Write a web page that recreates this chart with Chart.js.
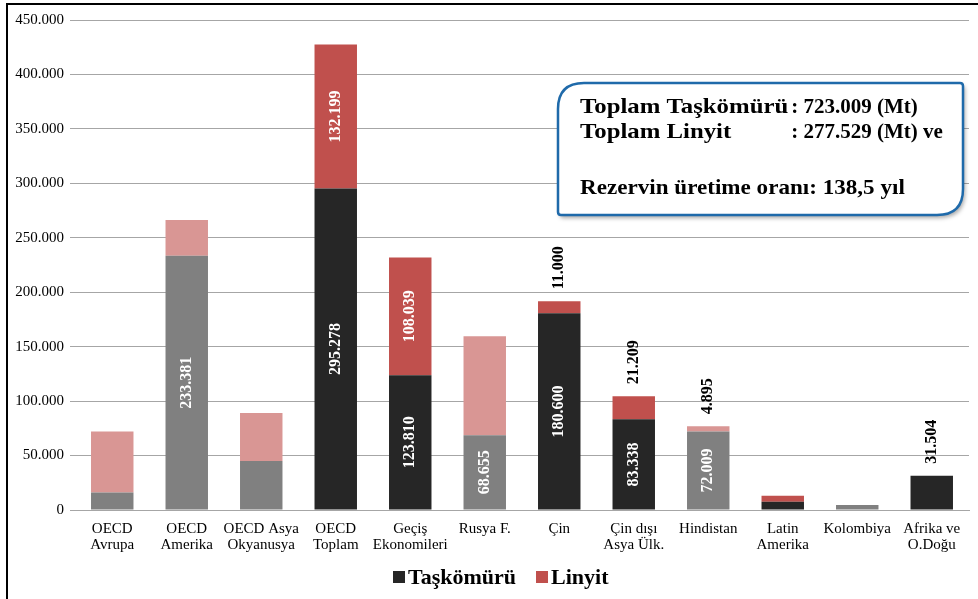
<!DOCTYPE html>
<html lang="tr">
<head>
<meta charset="utf-8">
<title>Kömür rezervleri</title>
<script src="https://cdn.jsdelivr.net/npm/chart.js@4.4.1/dist/chart.umd.min.js"></script>
<style>
  html, body { margin: 0; padding: 0; background: #fff; }
  canvas { display: block; }
</style>
</head>
<body>
<canvas id="rezervGrafik" width="978" height="599"></canvas>
<script>
// bölgeler ve rezervler (Mt)
var bolgeler = [
  ['OECD', 'Avrupa'], ['OECD', 'Amerika'], ['OECD Asya', 'Okyanusya'], ['OECD', 'Toplam'],
  ['Geçiş', 'Ekonomileri'], 'Rusya F.', 'Çin', ['Çin dışı', 'Asya Ülk.'],
  'Hindistan', ['Latin', 'Amerika'], 'Kolombiya', ['Afrika ve', 'O.Doğu']
];
var taskomuru = [16000, 233381, 45000, 295278, 123810, 68655, 180600, 83338, 72009, 7500, 4600, 31504];
var linyit    = [56000, 33000, 44000, 132199, 108039, 91000, 11000, 21209, 4895, 5500, 0, 0];

// hangi çubuklarda değer yazılıyor
var taskomuruEtiketli = [1, 3, 4, 5, 6, 7, 8, 11];
var linyitEtiketli = [3, 4, 6, 7, 8];

var yTickleri = [0, 50000, 100000, 150000, 200000, 250000, 300000, 350000, 400000, 450000];

var ozetSatirlari = [
  ['Toplam Taşkömürü', ': 723.009 (Mt)'],
  ['Toplam Linyit', ': 277.529 (Mt) ve'],
  [],
  ['Rezervin üretime oranı: 138,5 yıl']
];

// gri/pembe tonla çizilen bölgeler
var acikTonlu = [0, 1, 2, 5, 8, 10];

var KOYU = '#262626', GRI = '#808080', KIRMIZI = '#c0504d', PEMBE = '#d99694';
var SERIF = '"Liberation Serif", "Times New Roman", serif';

function noktali(v) {
  return String(v).replace(/\B(?=(\d{3})+(?!\d))/g, '.');
}

var tasRenk = taskomuru.map(function (v, i) { return acikTonlu.indexOf(i) >= 0 ? GRI : KOYU; });
var linRenk = linyit.map(function (v, i) { return acikTonlu.indexOf(i) >= 0 ? PEMBE : KIRMIZI; });

// çubuk üzerindeki dikey değer yazıları
var degerYazilari = {
  id: 'degerYazilari',
  afterDatasetsDraw: function (chart) {
    var ctx = chart.ctx;
    var setler = [[0, taskomuruEtiketli, taskomuru], [1, linyitEtiketli, linyit]];
    ctx.save();
    ctx.font = 'bold 16px ' + SERIF;
    setler.forEach(function (s) {
      var meta = chart.getDatasetMeta(s[0]);
      s[1].forEach(function (i) {
        var bar = meta.data[i];
        var txt = noktali(s[2][i]);
        var w = ctx.measureText(txt).width;
        var h = bar.base - bar.y;
        ctx.save();
        if (h > w + 10) {
          ctx.translate(bar.x, (bar.y + bar.base) / 2);
          ctx.rotate(-Math.PI / 2);
          ctx.fillStyle = '#fff';
          ctx.textAlign = 'center';
        } else {
          // yığının tepesinin üstüne
          var tepe = chart.getDatasetMeta(1).data[i].y;
          ctx.translate(bar.x, tepe - 12);
          ctx.rotate(-Math.PI / 2);
          ctx.fillStyle = '#000';
          ctx.textAlign = 'left';
        }
        ctx.textBaseline = 'middle';
        ctx.fillText(txt, 0, 0);
        ctx.restore();
      });
    });
    ctx.restore();
  }
};

// alttaki lejant (kare ile yazı arası dar)
var lejant = {
  id: 'lejant',
  afterDraw: function (chart) {
    var ctx = chart.ctx;
    var ogeler = [['Taşkömürü', KOYU], ['Linyit', KIRMIZI]];
    var x = 393, y = 577;
    ctx.save();
    ctx.font = 'bold 22px ' + SERIF;
    ctx.textBaseline = 'middle';
    ogeler.forEach(function (o) {
      ctx.fillStyle = o[1];
      ctx.fillRect(x, y - 6, 12, 12);
      ctx.fillStyle = '#000';
      ctx.fillText(o[0], x + 15, y + 1);
      x += 15 + ctx.measureText(o[0]).width + 20;
    });
    ctx.restore();
  }
};

// özet kutusu ve çerçeve
var ozetKutusu = {
  id: 'ozetKutusu',
  afterDraw: function (chart) {
    var ctx = chart.ctx;
    var x = 558, y = 83, w = 405, h = 132, r = 26, k = 3;
    ctx.save();
    ctx.beginPath();
    ctx.moveTo(x + r, y);
    ctx.lineTo(x + w - k, y);
    ctx.quadraticCurveTo(x + w, y, x + w, y + k);
    ctx.lineTo(x + w, y + h - r);
    ctx.quadraticCurveTo(x + w, y + h, x + w - r, y + h);
    ctx.lineTo(x + k, y + h);
    ctx.quadraticCurveTo(x, y + h, x, y + h - k);
    ctx.lineTo(x, y + r);
    ctx.quadraticCurveTo(x, y, x + r, y);
    ctx.closePath();
    ctx.shadowColor = 'rgba(0,0,0,0.35)';
    ctx.shadowBlur = 4;
    ctx.shadowOffsetX = 2;
    ctx.shadowOffsetY = 3;
    ctx.fillStyle = '#fff';
    ctx.fill();
    ctx.shadowColor = 'transparent';
    ctx.lineWidth = 2.5;
    ctx.strokeStyle = '#1f6aaa';
    ctx.stroke();

    // yazılar: ilk sütun yatayda genişletilmiş, iki nokta üst üste hizalı
    ctx.fillStyle = '#000';
    ctx.font = 'bold 21px ' + SERIF;
    ctx.textBaseline = 'middle';
    var satirY = [108, 133, 160, 189];
    var sx = 1.18, x0 = 580;
    var ikiNokta = x0 + ctx.measureText(ozetSatirlari[0][0]).width * sx + 3;
    ozetSatirlari.forEach(function (satir, j) {
      if (satir[0]) {
        ctx.save();
        ctx.translate(x0, satirY[j]);
        ctx.scale(satir[1] ? sx : 1.1, 1);
        ctx.fillText(satir[0], 0, 0);
        ctx.restore();
      }
      if (satir[1]) ctx.fillText(satir[1], ikiNokta, satirY[j]);
    });

    // dış çerçeve (sol ve üst)
    ctx.strokeStyle = '#000';
    ctx.lineWidth = 2;
    ctx.beginPath();
    ctx.moveTo(7, 599);
    ctx.lineTo(7, 4);
    ctx.lineTo(978, 4);
    ctx.stroke();
    ctx.restore();
  }
};

var ctx = document.getElementById('rezervGrafik').getContext('2d');
new Chart(ctx, {
  type: 'bar',
  data: {
    labels: bolgeler,
    datasets: [{
      label: 'Taşkömürü',
      data: taskomuru,
      backgroundColor: tasRenk,
      categoryPercentage: 1,
      barPercentage: 0.57
    }, {
      label: 'Linyit',
      data: linyit,
      backgroundColor: linRenk,
      categoryPercentage: 1,
      barPercentage: 0.57
    }]
  },
  plugins: [degerYazilari, lejant, ozetKutusu],
  options: {
    responsive: false,
    animation: false,
    layout: { padding: { left: 4, right: 9, top: 20, bottom: 39 } },
    plugins: {
      legend: { display: false },
      tooltip: { enabled: false }
    },
    scales: {
      x: {
        stacked: true,
        afterFit: function (s) { s.height = 50; },
        grid: { display: false },
        border: { color: '#a6a6a6' },
        ticks: {
          color: '#000',
          font: { family: SERIF, size: 15, lineHeight: 1.05 },
          maxRotation: 0,
          autoSkip: false,
          padding: 3
        }
      },
      y: {
        stacked: true,
        min: 0,
        max: 450000,
        afterFit: function (s) { s.width = 71; },
        afterBuildTicks: function (s) {
          s.ticks = yTickleri.map(function (v) { return { value: v }; });
        },
        grid: { color: '#a6a6a6', tickLength: 5 },
        border: { display: false },
        ticks: {
          color: '#000',
          font: { family: SERIF, size: 15 },
          padding: 6,
          callback: function (v) { return noktali(v); }
        }
      }
    }
  }
});
</script>
</body>
</html>
